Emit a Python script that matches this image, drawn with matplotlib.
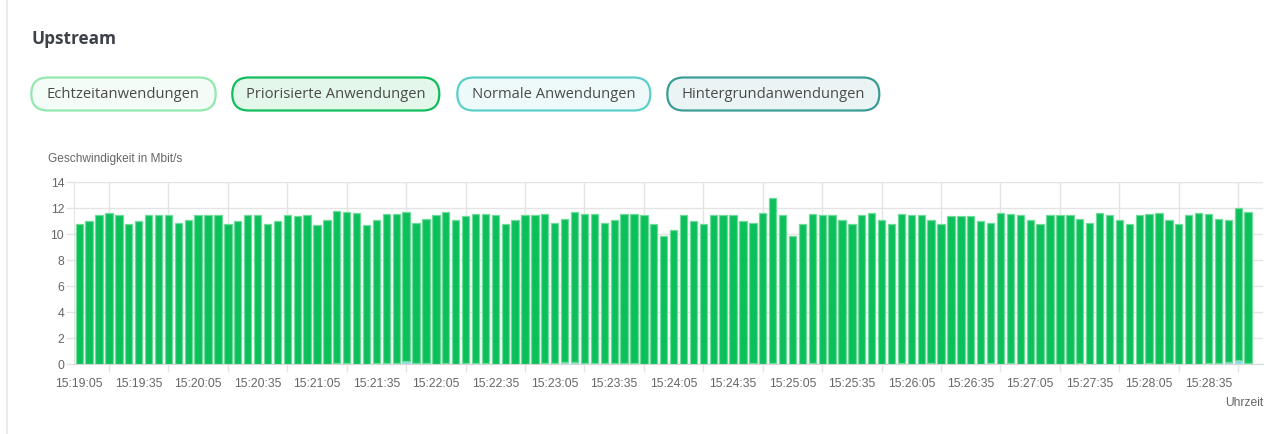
import matplotlib
matplotlib.use("Agg")
import matplotlib.pyplot as plt
from matplotlib.patches import FancyBboxPatch
import numpy as np

# ---------------- data ----------------
# "Priorisierte Anwendungen" (stacked on top of "Normale Anwendungen")
prioritized = [
    10.8, 11.0, 11.5, 11.6, 11.5, 10.8, 11.0, 11.5, 11.5, 11.5,
    10.9, 11.1, 11.5, 11.5, 11.5, 10.8, 11.0, 11.5, 11.5, 10.8,
    11.0, 11.5, 11.4, 11.5, 10.7, 11.1, 11.7, 11.6, 11.6, 10.7,
    11.0, 11.5, 11.5, 11.45, 10.8, 11.1, 11.5, 11.6, 11.1, 11.3,
    11.5, 11.5, 11.5, 10.8, 11.1, 11.5, 11.5, 11.5, 10.8, 11.0,
    11.5, 11.5, 11.5, 10.8, 11.0, 11.5, 11.5, 11.5, 10.8, 9.9,
    10.3, 11.5, 11.0, 10.8, 11.5, 11.5, 11.5, 11.0, 10.8, 11.6,
    12.7, 11.5, 9.9, 10.8, 11.5, 11.5, 11.5, 11.1, 10.8, 11.5,
    11.6, 11.1, 10.8, 11.5, 11.5, 11.5, 11.0, 10.8, 11.4, 11.4,
    11.4, 11.0, 10.8, 11.6, 11.5, 11.5, 11.1, 10.8, 11.5, 11.5,
    11.5, 11.1, 10.9, 11.6, 11.5, 11.1, 10.8, 11.5, 11.5, 11.6,
    11.0, 10.8, 11.5, 11.6, 11.5, 11.1, 10.9, 11.7, 11.6,
]
normal = [0.0] * 26 + [
    0.08, 0.08, 0.0, 0.0, 0.08, 0.08, 0.08, 0.25, 0.08, 0.08,
    0.0, 0.08, 0.0, 0.08, 0.08, 0.08, 0.0, 0.0, 0.0, 0.0,
    0.0, 0.08, 0.08, 0.2, 0.2, 0.08, 0.08, 0.08, 0.08, 0.08,
    0.08, 0.0, 0.0, 0.0, 0.0, 0.0, 0.0, 0.0, 0.0, 0.0,
    0.0, 0.0, 0.08, 0.0, 0.08, 0.0, 0.0, 0.0, 0.08, 0.0,
    0.0, 0.0, 0.0, 0.0, 0.0, 0.0, 0.0, 0.08, 0.0, 0.0,
    0.08, 0.0, 0.0, 0.0, 0.0, 0.0, 0.08, 0.0, 0.08, 0.0,
    0.0, 0.0, 0.0, 0.0, 0.0, 0.08, 0.0, 0.0, 0.0, 0.0,
    0.0, 0.0, 0.08, 0.0, 0.08, 0.0, 0.0, 0.0, 0.08, 0.08,
    0.2, 0.3, 0.08,
]
n_slots = 120
tick_labels = [
    "15:19:05", "15:19:35", "15:20:05", "15:20:35", "15:21:05",
    "15:21:35", "15:22:05", "15:22:35", "15:23:05", "15:23:35",
    "15:24:05", "15:24:35", "15:25:05", "15:25:35", "15:26:05",
    "15:26:35", "15:27:05", "15:27:35", "15:28:05", "15:28:35",
]
legend_labels = ["Echtzeitanwendungen", "Priorisierte Anwendungen",
                 "Normale Anwendungen", "Hintergrundanwendungen"]
y_ticks = [0, 2, 4, 6, 8, 10, 12, 14]

# ---------------- figure ----------------
W, H = 1278, 434
DPI = 100
fig = plt.figure(figsize=(W / DPI, H / DPI), dpi=DPI)
fig.patch.set_facecolor("white")

def px_to_fig(x0, y0, x1, y1):
    return [x0 / W, 1 - y1 / H, (x1 - x0) / W, (y1 - y0) / H]

# overlay for header
ov = fig.add_axes([0, 0, 1, 1])
ov.set_xlim(0, W)
ov.set_ylim(H, 0)
ov.axis("off")
ov.plot([7, 7], [0, H], color="#e8e8e8", lw=1.2)

ov.text(31.5, 38.5, "Upstream", fontsize=12.4, fontweight="bold",
        family="Open Sans", color="#3d4148", va="center", ha="left")

btn_boxes = [(31.3, 215.7), (232.3, 439.3), (457.3, 650.3), (667.3, 879.3)]
btn_edge = ["#93e8ad", "#12bd5c", "#5ccfcb", "#3a9d95"]
btn_face = ["#f3fcf6", "#e4f7eb", "#eefafa", "#ebf4f4"]
by0, by1 = 77.5, 110.5
for (x0, x1), lab, ec, fc in zip(btn_boxes, legend_labels, btn_edge, btn_face):
    r = (by1 - by0) / 2
    p = FancyBboxPatch((x0, by0), (x1 - x0), by1 - by0,
                       boxstyle=f"round,pad=0,rounding_size={r}",
                       facecolor=fc, edgecolor=ec, lw=1.6)
    ov.add_patch(p)
    ov.text((x0 + x1) / 2, (by0 + by1) / 2 + 0.5, lab, fontsize=10.6,
            family="Open Sans", color="#4a4a4a", ha="center", va="center")

# ---------------- chart ----------------
ax = fig.add_axes(px_to_fig(74.3, 182.3, 1263.0, 364.3))
x = np.arange(len(prioritized))
ax.bar(x, normal, width=0.74, color="#92dede", edgecolor="#92dede",
       linewidth=0.5, zorder=3)
ax.bar(x, prioritized, width=0.74, bottom=normal, color="#0bbf5b",
       edgecolor="#6edb9a", linewidth=0.9, zorder=3)

ax.set_xlim(-0.5, n_slots - 0.5)
ax.set_ylim(0, 14)
ax.set_yticks(y_ticks)
ax.set_yticklabels([str(v) for v in y_ticks])

major = np.arange(0, 6 * len(tick_labels), 6)
ax.set_xticks(major)
ax.set_xticklabels(tick_labels)
ax.set_xticks(major + 3, minor=True)

gc = "#e4e4e4"
ax.grid(False)
ax.yaxis.grid(True, color=gc, lw=1, zorder=0)
ax.xaxis.grid(True, which="minor", color=gc, lw=1, zorder=0)
ax.tick_params(axis="x", which="major", length=0, pad=10,
               labelsize=8.7, labelcolor="#666666")
ax.tick_params(axis="x", which="minor", length=5.8, color=gc, width=1)
ax.tick_params(axis="y", length=5.8, color=gc, width=1, pad=1.5,
               labelsize=8.7, labelcolor="#666666")
for lab in ax.get_xticklabels() + ax.get_yticklabels():
    lab.set_family("Liberation Sans")

for s in ["top", "right"]:
    ax.spines[s].set_visible(False)
ax.spines["left"].set_color(gc)
ax.spines["bottom"].set_color("#d6d6d6")
ax.set_axisbelow(True)

ov.text(47.5, 159, "Geschwindigkeit in Mbit/s", fontsize=8.55,
        family="Liberation Sans", color="#666666", ha="left", va="center")
ov.text(1263, 403, "Uhrzeit", fontsize=8.7, family="Liberation Sans",
        color="#666666", ha="right", va="center")

fig.savefig("out.png", dpi=DPI, facecolor="white")
